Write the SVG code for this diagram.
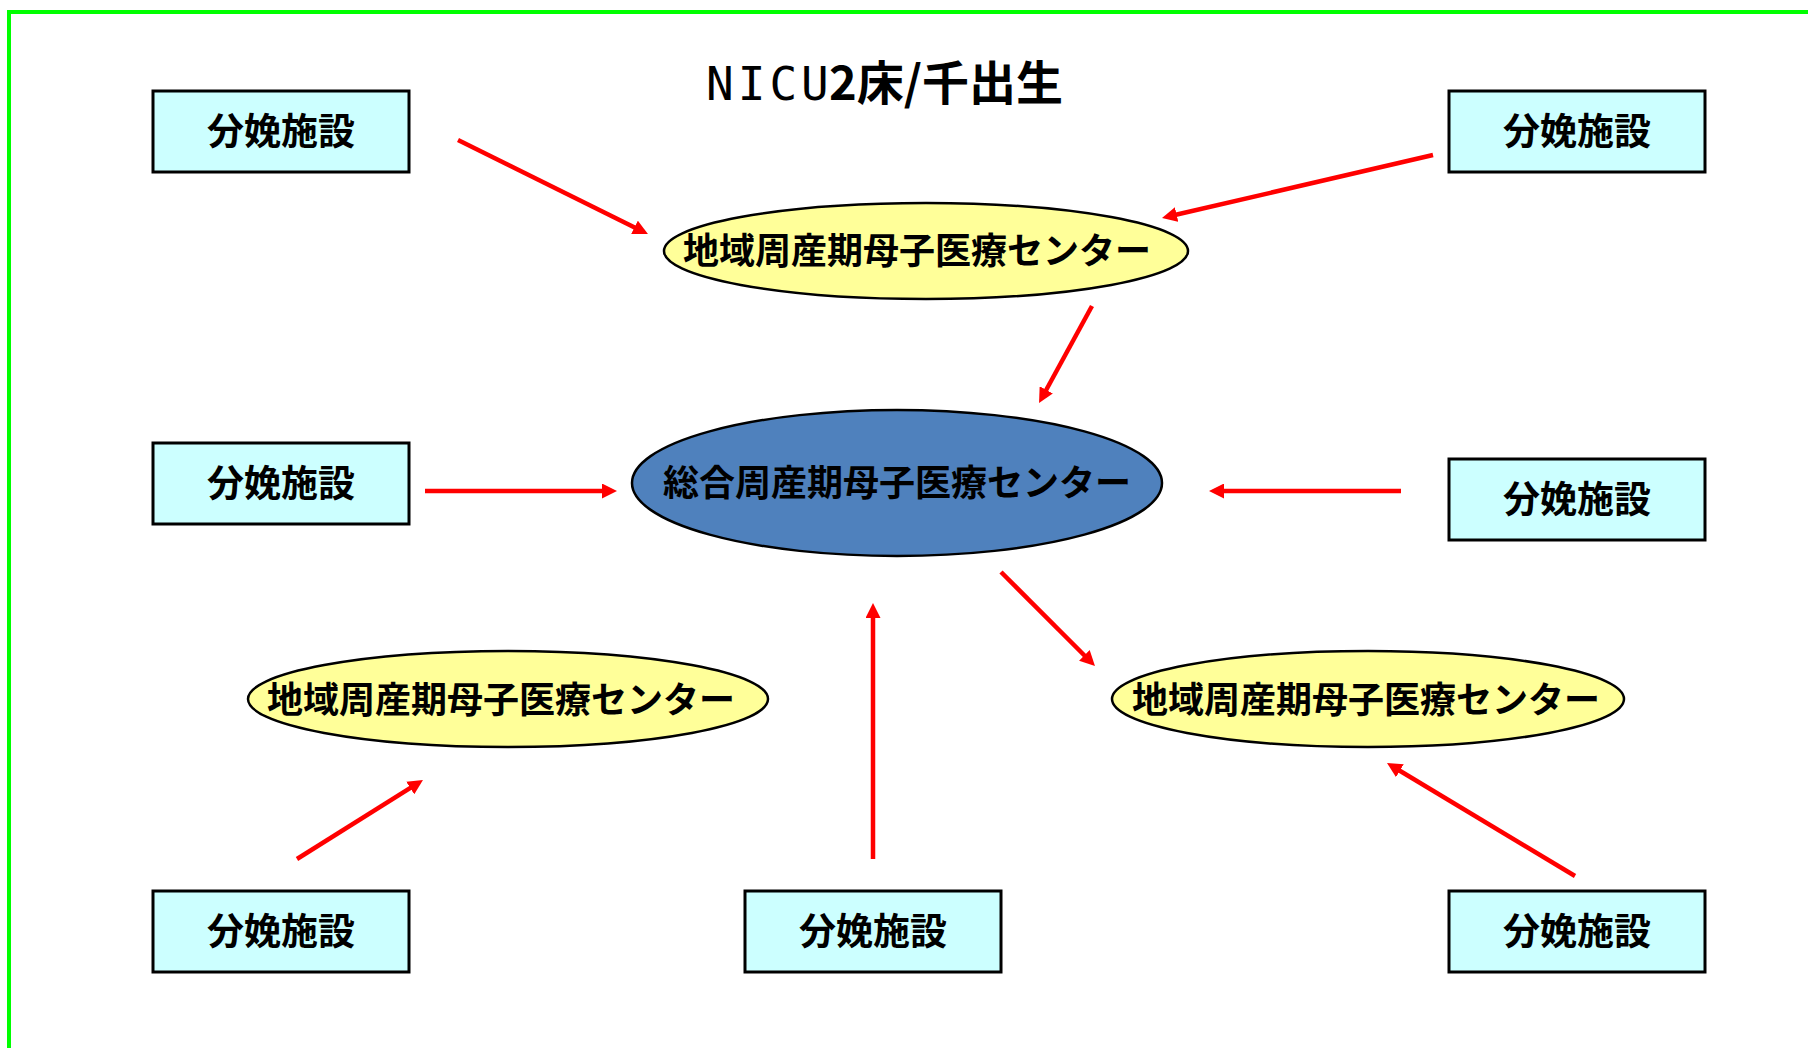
<svg xmlns="http://www.w3.org/2000/svg" width="1808" height="1048" viewBox="0 0 1808 1048">
<defs>
<style>
.box{fill:#CCFFFF;stroke:#000;stroke-width:3}
.reg{fill:#FFFF99;stroke:#000;stroke-width:2.5}
.gen{fill:#4F81BD;stroke:#000;stroke-width:2.5}
.lbl{font-family:"Noto Sans CJK JP","Noto Sans",sans-serif;font-weight:bold;fill:#000;text-anchor:middle}
.bl{font-size:37px}
.el{font-size:36px}
.conn line{stroke:#FF0000;stroke-width:4.5;marker-end:url(#ah)}
</style>
<marker id="ah" markerUnits="userSpaceOnUse" markerWidth="15" markerHeight="15" viewBox="0 0 15 15" refX="3" refY="7.5" orient="auto">
<path d="M0,0 L15,7.5 L0,15 z" fill="#FF0000"/>
</marker>
</defs>
<rect x="0" y="0" width="1808" height="1048" fill="#FFFFFF"/>
<rect x="9" y="12" width="1900" height="1100" fill="none" stroke="#00FF00" stroke-width="4"/>

<g id="title">
<text x="706" y="100" font-family="DejaVu Sans Mono, monospace" font-size="46" letter-spacing="4" fill="#000">NICU<tspan x="829" font-family="Noto Sans CJK JP, sans-serif" font-weight="bold" font-size="47" letter-spacing="0">2床/千出生</tspan></text>
</g>

<g id="conn" class="conn">
<line x1="458" y1="140" x2="637.2" y2="228.7"/>
<line x1="1433" y1="155" x2="1173.7" y2="215.3"/>
<line x1="1092" y1="306" x2="1044.8" y2="392.5"/>
<line x1="425" y1="491" x2="605" y2="491"/>
<line x1="1401" y1="491" x2="1221" y2="491"/>
<line x1="1001" y1="572" x2="1086.5" y2="657.5"/>
<line x1="297" y1="859" x2="412.8" y2="786.4"/>
<line x1="873" y1="859" x2="873" y2="615"/>
<line x1="1575" y1="876" x2="1397.3" y2="769.2"/>
</g>

<g id="box-top-left">
<rect class="box" x="153" y="91" width="256" height="81"/>
<text class="lbl bl" x="281" y="145">分娩施設</text>
</g>
<g id="box-top-right">
<rect class="box" x="1449" y="91" width="256" height="81"/>
<text class="lbl bl" x="1577" y="145">分娩施設</text>
</g>
<g id="box-mid-left">
<rect class="box" x="153" y="443" width="256" height="81"/>
<text class="lbl bl" x="281" y="497">分娩施設</text>
</g>
<g id="box-mid-right">
<rect class="box" x="1449" y="459" width="256" height="81"/>
<text class="lbl bl" x="1577" y="513">分娩施設</text>
</g>
<g id="box-bottom-left">
<rect class="box" x="153" y="891" width="256" height="81"/>
<text class="lbl bl" x="281" y="945">分娩施設</text>
</g>
<g id="box-bottom-center">
<rect class="box" x="745" y="891" width="256" height="81"/>
<text class="lbl bl" x="873" y="945">分娩施設</text>
</g>
<g id="box-bottom-right">
<rect class="box" x="1449" y="891" width="256" height="81"/>
<text class="lbl bl" x="1577" y="945">分娩施設</text>
</g>

<g id="regional-top">
<ellipse class="reg" cx="926" cy="251" rx="262" ry="48"/>
<text class="lbl el" x="917" y="264">地域周産期母子医療センター</text>
</g>
<g id="general-center">
<ellipse class="gen" cx="897" cy="483" rx="265" ry="73"/>
<text class="lbl el" x="897" y="496">総合周産期母子医療センター</text>
</g>
<g id="regional-bottom-left">
<ellipse class="reg" cx="508" cy="699" rx="260" ry="48"/>
<text class="lbl el" x="501" y="713">地域周産期母子医療センター</text>
</g>
<g id="regional-bottom-right">
<ellipse class="reg" cx="1368" cy="699" rx="256" ry="48"/>
<text class="lbl el" x="1366" y="713">地域周産期母子医療センター</text>
</g>
</svg>
